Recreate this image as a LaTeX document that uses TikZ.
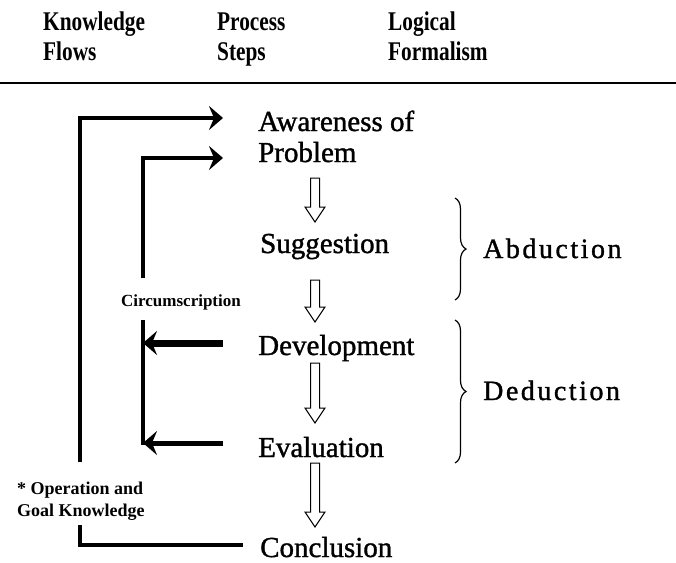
\documentclass[tikz,border=0pt]{standalone}
\usepackage{fontspec}
\setmainfont{Liberation Serif}
\usepackage{graphicx}
\usetikzlibrary{arrows.meta,decorations.pathreplacing,calc}
\newcommand\hsq[1]{\scalebox{0.79}[1]{#1}}
\begin{document}
\begin{tikzpicture}[x=1pt,y=-1pt,
 hdr/.style={anchor=base west, inner sep=0, align=left, font=\fontsize{27}{30}\selectfont\bfseries},
 stepbox/.style={anchor=base west, inner sep=0, align=left, font=\fontsize{29}{31}\selectfont\addfontfeature{FakeBold=1.2}},
 logic/.style={anchor=base west, inner sep=0, font=\fontsize{28}{31}\selectfont\addfontfeature{LetterSpace=9,FakeBold=1.2}},
 small/.style={inner sep=0, align=left, font=\fontsize{18}{22}\selectfont\bfseries},
 flow/.style={line width=4pt},
 tip/.style={-{Stealth[length=14pt,width=24pt,inset=5pt]}},
 hollow/.style={draw, line width=1pt, to path={let \p1=(\tikztostart), \p2=(\tikztotarget) in
   (\x1-4.5pt,\y1) -- (\x1+4.5pt,\y1) -- (\x1+4.5pt,\y2+15pt) -- (\x1+10pt,\y2+15pt) -- (\x2,\y2) -- (\x1-10pt,\y2+15pt) -- (\x1-4.5pt,\y2+15pt) -- cycle}},
 brace/.style={decorate, decoration={brace, amplitude=11pt}, line width=1.2pt}
]
\fill[white] (0,0) rectangle (676,562);
\useasboundingbox (0,0) rectangle (676,562);

% headers
\node[hdr] (hk) at (43,60) {\hsq{Knowledge}\\\hsq{Flows}};
\node[hdr] (hp) at (217,60) {\hsq{Process}\\\hsq{Steps}};
\node[hdr] (hl) at (388,60) {\hsq{Logical}\\\hsq{Formalism}};
\coordinate (rl) at (0,83);
\coordinate (rr) at (676,83);
\draw[line width=2.5pt] (rl) -- (rr);

% steps
\node[stepbox] (aware) at (258,162) {Awareness of\\Problem};
\node[stepbox] (sugg) at (260,253) {Suggestion};
\node[stepbox] (dev) at (258,355) {Development};
\node[stepbox] (eval) at (258,457) {Evaluation};
\node[stepbox] (concl) at (260,557) {Conclusion};

% hollow arrows
\coordinate (h1s) at (315,178); \coordinate (h1e) at (315,222);
\coordinate (h2s) at (315,280); \coordinate (h2e) at (315,322);
\coordinate (h3s) at (315,363); \coordinate (h3e) at (315,423);
\coordinate (h4s) at (315,463); \coordinate (h4e) at (315,527);
\draw[hollow] (h1s) to (h1e);
\draw[hollow] (h2s) to (h2e);
\draw[hollow] (h3s) to (h3e);
\draw[hollow] (h4s) to (h4e);

% logical formalism
\coordinate (b1t) at (455,198); \coordinate (b1b) at (455,300);
\coordinate (b2t) at (455,320); \coordinate (b2b) at (455,463);
\draw[brace] (b1t) -- (b1b);
\draw[brace] (b2t) -- (b2b);
\node[logic] (abd) at (483,258) {Abduction};
\node[logic] (ded) at (483,400) {Deduction};

% outer knowledge flow
\coordinate (o1) at (80,462);
\coordinate (oc) at (80,118);
\coordinate (oe) at (223,118);
\draw[flow,tip] (o1) -- (oc) -- (oe);
\coordinate (o2) at (80,525);
\coordinate (ob) at (80,545);
\coordinate (oz) at (243,545);
\draw[flow] (o2) -- (ob) -- (oz);
\node[small, anchor=base west] (opk) at (17,516) {* Operation and\\Goal Knowledge};

% inner circumscription flow
\coordinate (i1) at (143,278);
\coordinate (ic) at (143,158);
\coordinate (ie) at (223,158);
\draw[flow,tip] (i1) -- (ic) -- (ie);
\coordinate (i2) at (143,320);
\coordinate (ib) at (143,445);
\draw[flow] (i2) -- (ib);
\node[inner sep=0, anchor=base, font=\fontsize{17}{20}\selectfont\bfseries] (circ) at (181,306) {Circumscription};

\coordinate (ds) at (223,343);
\coordinate (dt) at (143,343);
\draw[line width=7pt,tip] (ds) -- (dt);
\coordinate (es) at (223,443);
\coordinate (et) at (143,443);
\draw[line width=5pt,tip] (es) -- (et);
\end{tikzpicture}
\end{document}
